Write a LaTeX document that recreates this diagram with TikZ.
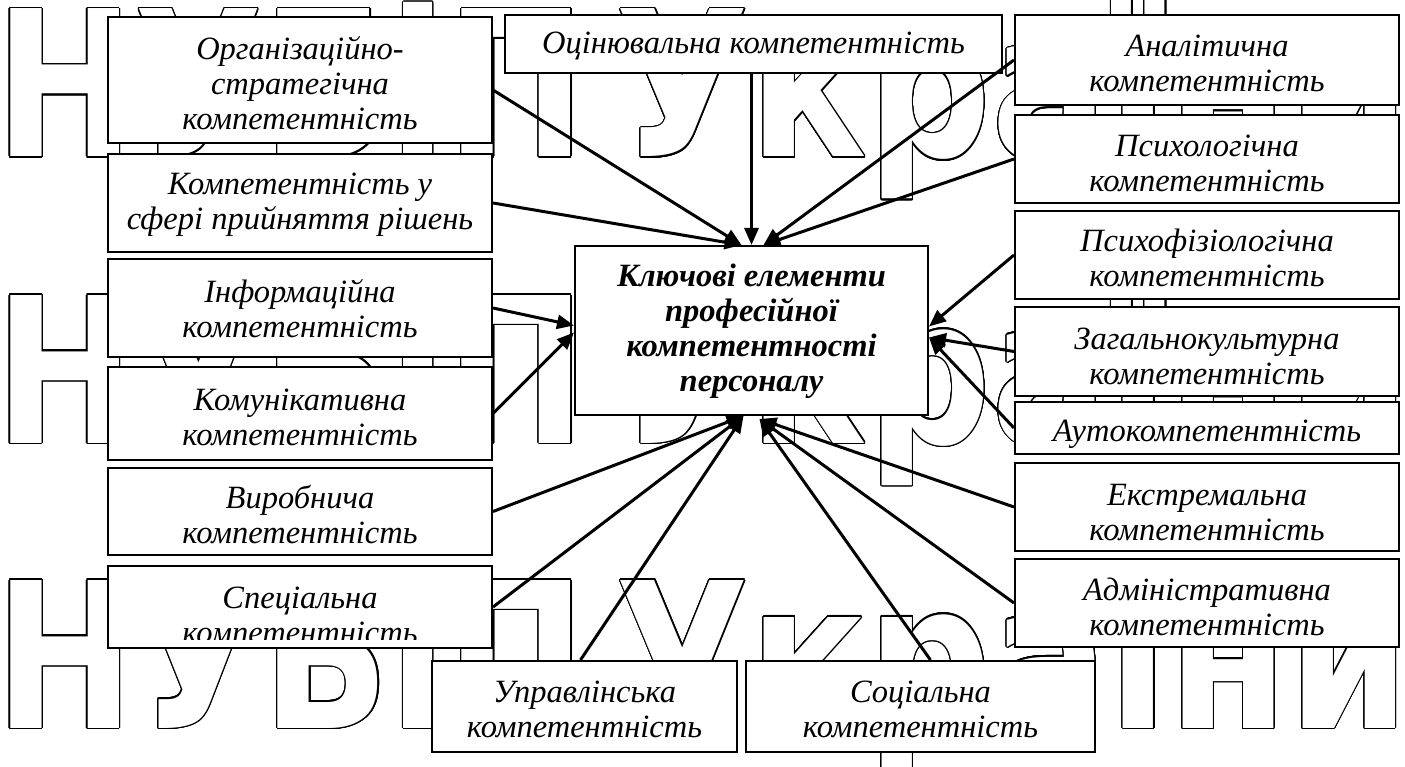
\documentclass[tikz,border=0pt]{standalone}
\usepackage{graphicx}
\usepackage{fontspec}
\setmainfont{Liberation Serif}
\newfontfamily\wmfont{DejaVu Sans}
\usetikzlibrary{arrows.meta,calc}
\tikzset{
  box/.style={draw=black, line width=2pt, fill=white, inner sep=0pt, minimum width=384pt},
  lbl/.style={inner sep=0pt, anchor=base, font=\fontsize{32.5}{35}\selectfont\itshape},
  ctrlbl/.style={inner sep=0pt, anchor=base, font=\fontsize{32.5}{35}\selectfont\bfseries\itshape},
  arr/.style={line width=3pt, -{Triangle[length=17pt,width=14pt]}},
  wm/.style={inner sep=0pt, anchor=base west, font=\wmfont\bfseries\fontsize{203}{210}\selectfont},
  wme/.style={wm, anchor=base east},
}
\newcommand{\ml}[1]{\begin{tabular}[t]{@{}c@{}}#1\end{tabular}}
\newcommand{\wmA}{\scalebox{0.82}[1]{НУБіП}}
\newcommand{\wmB}{\scalebox{0.855}[1]{України}}
\begin{document}
\begin{tikzpicture}[x=1pt,y=-1pt]
\useasboundingbox (0,0) rectangle (1405,767);
\fill[white] (0,0) rectangle (1405,767);
% watermark
\foreach \r/\b in {1/157,2/443,3/728}{
  \foreach \k in {1,...,24}{
    \node[wm,text=black] (wa\r-\k) at ($(-5,\b)+({\k*15}:1.2)$) {\wmA};
    \node[wme,text=black] (wb\r-\k) at ($(1410,\b)+({\k*15}:1.2)$) {\wmB};
  }
  \node[wm,text=white] (wa\r) at (-5,\b) {\wmA};
  \node[wme,text=white] (wb\r) at (1410,\b) {\wmB};
}
% left column
\node[box, minimum height=126pt] (org) at (300,80) {};
\node[lbl] (org-t) at ($(org.north)+(0,44)$) {\ml{Організаційно-\\стратегічна\\компетентність}};
\node[box, minimum height=98pt] (dec) at (300,203) {};
\node[lbl] (dec-t) at ($(dec.north)+(0,42)$) {\ml{Компетентність у\\сфері прийняття рішень}};
\node[box, minimum height=98pt] (inf) at (300,308) {};
\node[lbl] (inf-t) at ($(inf.north)+(0,44)$) {\ml{Інформаційна\\компетентність}};
\node[box, minimum height=93pt] (kom) at (300,413.5) {};
\node[lbl] (kom-t) at ($(kom.north)+(0,44)$) {\ml{Комунікативна\\компетентність}};
\node[box, minimum height=87pt] (vyr) at (300,511.5) {};
\node[lbl] (vyr-t) at ($(vyr.north)+(0,41)$) {\ml{Виробнича\\компетентність}};
\node[box, minimum height=82pt] (spec) at (300,607) {};
\begin{scope}
\clip (110,568) rectangle (490,639);
\node[lbl] (spec-t) at ($(spec.north)+(0,43)$) {\ml{Спеціальна\\компетентність}};
\end{scope}
% top
\node[box, minimum width=497pt, minimum height=58pt] (ots) at (753.5,44) {};
\node[lbl] (ots-t) at ($(ots.north)+(0,40)$) {Оцінювальна компетентність};
% right column
\node[box, minimum height=90pt] (anal) at (1207,60) {};
\node[lbl] (anal-t) at ($(anal.north)+(0,43)$) {\ml{Аналітична\\компетентність}};
\node[box, minimum height=88pt] (psy) at (1207,159) {};
\node[lbl] (psy-t) at ($(psy.north)+(0,43)$) {\ml{Психологічна\\компетентність}};
\node[box, minimum height=88pt] (psyf) at (1207,255) {};
\node[lbl] (psyf-t) at ($(psyf.north)+(0,42)$) {\ml{Психофізіологічна\\компетентність}};
\node[box, minimum height=89pt] (cult) at (1207,351.5) {};
\node[lbl] (cult-t) at ($(cult.north)+(0,43)$) {\ml{Загальнокультурна\\компетентність}};
\node[box, minimum height=52pt] (auto) at (1207,428) {};
\node[lbl] (auto-t) at ($(auto.north)+(0,40)$) {Аутокомпетентність};
\node[box, minimum height=88pt] (ext) at (1207,507) {};
\node[lbl] (ext-t) at ($(ext.north)+(0,43)$) {\ml{Екстремальна\\компетентність}};
\node[box, minimum height=88pt] (adm) at (1207,603) {};
\node[lbl] (adm-t) at ($(adm.north)+(0,42)$) {\ml{Адміністративна\\компетентність}};
% bottom
\node[box, minimum width=305pt, minimum height=91pt] (upr) at (584.5,706.5) {};
\node[lbl] (upr-t) at ($(upr.north)+(0,42)$) {\ml{Управлінська\\компетентність}};
\node[box, minimum width=349pt, minimum height=91pt] (soc) at (920.5,706.5) {};
\node[lbl] (soc-t) at ($(soc.north)+(0,42)$) {\ml{Соціальна\\компетентність}};
% centre
\node[box, minimum width=353pt, minimum height=169pt] (ctr) at (751.5,330.5) {};
\node[ctrlbl] (ctr-t) at ($(ctr.north)+(0,42)$) {\ml{Ключові елементи\\професійної\\компетентності\\персоналу}};
% connectors
\draw[arr] ($(org.east)+(0,10)$) -- ($(ctr.north)+(-10,0)$);
\draw[arr] (dec.east) -- ($(ctr.north)+(-10,0)$);
\draw[arr] (ots.south -| ctr.north) -- (ctr.north);
\draw[arr] (anal.west) -- ($(ctr.north)+(12,0)$);
\draw[arr] (psy.west) -- ($(ctr.north)+(12,0)$);
\draw[arr] (psyf.west) -- ($(ctr.east)+(0,-4)$);
\draw[arr] (cult.west) -- ($(ctr.east)+(0,7)$);
\draw[arr] (auto.west) -- ($(ctr.east)+(0,7)$);
\draw[arr] (ext.west) -- ($(ctr.south)+(8,3)$);
\draw[arr] (adm.west) -- ($(ctr.south)+(8,3)$);
\draw[arr] ($(soc.north)+(10,0)$) -- ($(ctr.south)+(8,3)$);
\draw[arr] ($(upr.north)+(-4,0)$) -- ($(ctr.south)+(-8,0)$);
\draw[arr] (spec.east) -- ($(ctr.south)+(-8,0)$);
\draw[arr] (vyr.east) -- ($(ctr.south)+(-8,0)$);
\draw[arr] (inf.east) -- ($(ctr.west)+(0,-5)$);
\draw[arr] (kom.east) -- ($(ctr.west)+(0,2)$);
\end{tikzpicture}
\end{document}
